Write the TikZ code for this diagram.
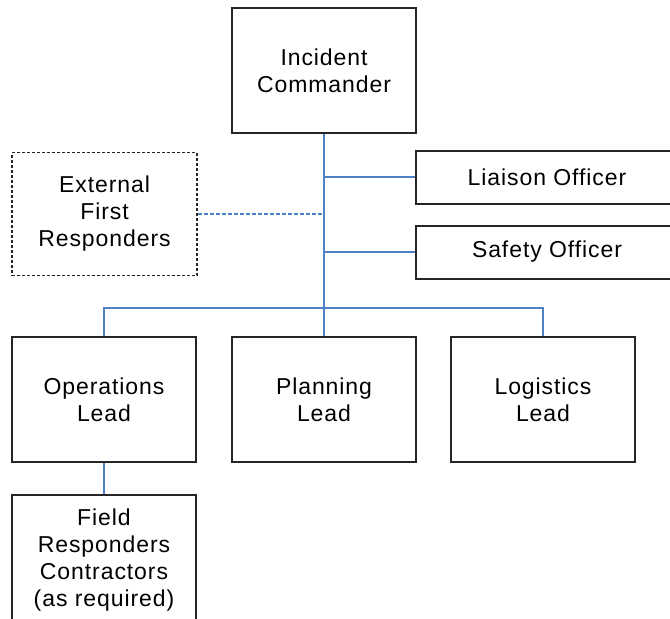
\documentclass[tikz,border=0pt]{standalone}
\usepackage{fontspec}
\setmainfont{Liberation Sans}[LetterSpace=4]
\usetikzlibrary{positioning}
\definecolor{linkblue}{RGB}{79,129,200}

\begin{document}
\begin{tikzpicture}[x=1pt,y=-1pt,
  box/.style={draw=black!85,line width=2pt,align=center,inner sep=0pt,
    font=\fontsize{23}{27}\selectfont,minimum width=184,minimum height=125},
  side/.style={box,minimum width=262,minimum height=53},
  link/.style={draw=linkblue,line width=2pt}]
\useasboundingbox (0,0) rectangle (670,619);
\clip (0,0) rectangle (670,619);
% boxes
\node[box] (ic) at (324,70.5) {Incident\\Commander};
\node[side] (liaison) at (547,177) {Liaison Officer};
\node[side] (safety) at (547,252) {Safety Officer};
\node[box,dash pattern=on 3pt off 2pt,line width=1.6pt,minimum width=185,minimum height=123] (ext) at (104.5,214) {External\\First\\Responders};
\node[box] (ops) at (104,399.5) {Operations\\Lead};
\node[box] (plan) at (324,399.5) {Planning\\Lead};
\node[box] (log) at (543,399.5) {Logistics\\Lead};
\node[box,minimum height=130] (field) at (104,560) {Field\\Responders\\Contractors\\(as required)};
% links
\coordinate (hub) at (324,308);
\draw[link] (ic.south) -- (plan.north);
\draw[link] (ops.north) |- (hub) -| (log.north);
\draw[link] (ic.south |- liaison.west) -- (liaison.west);
\draw[link] (ic.south |- safety.west) -- (safety.west);
\draw[link,line width=1.5pt,dash pattern=on 4pt off 2pt] (ext.east) -- (ext.east -| ic.south);
\draw[link] (ops.south) -- (field.north);
\end{tikzpicture}
\end{document}
